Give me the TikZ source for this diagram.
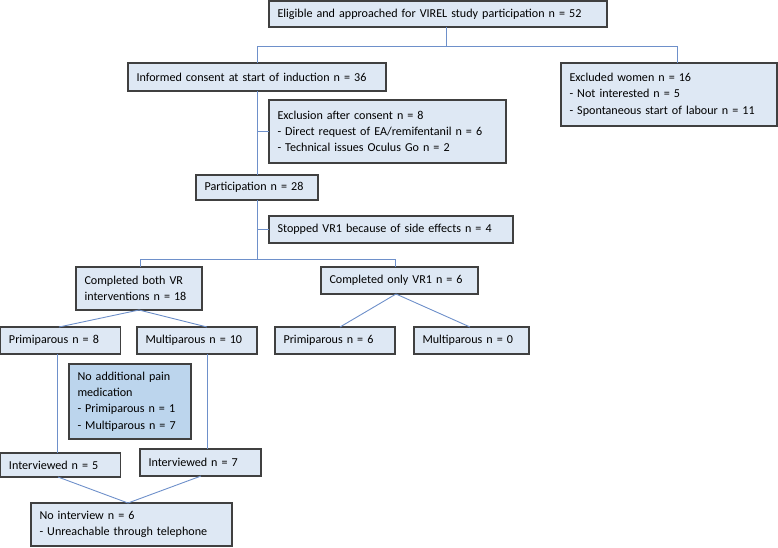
\documentclass[tikz,border=0pt]{standalone}
\usepackage{fontspec}
\setmainfont{Carlito}
\definecolor{boxfill}{HTML}{DEE8F4}
\definecolor{darkfill}{HTML}{BCD5ED}
\definecolor{boxline}{HTML}{404040}
\definecolor{conn}{HTML}{6E90CA}
\newcommand\myline[1]{\mbox{#1}}
\tikzset{
  bx/.style={draw=boxline, line width=1.2pt, fill=boxfill, inner xsep=8.5pt, inner ysep=0pt,
    outer sep=0pt, align=left, font=\fontsize{12.1}{16.3}\selectfont, anchor=center},
  ln/.style={draw=conn, line width=0.9pt}
}
\begin{document}
\begin{tikzpicture}[x=1pt,y=-1pt]
\useasboundingbox (0,0) rectangle (778,547);
% boxes: minimum width = w, text width = w-17
\node[bx, minimum width=338pt, text width=321pt, minimum height=26pt] (top) at (438,14) {\myline{Eligible and approached for VIREL study participation n = 52}};
\node[bx, minimum width=258pt, text width=241pt, minimum height=28pt] (ic) at (257,77) {\myline{Informed consent at start of induction n = 36}};
\node[bx, minimum width=216pt, text width=199pt, minimum height=63pt] (ex) at (669,94.5) {\myline{Excluded women n = 16}\\\myline{- Not interested n = 5}\\\myline{- Spontaneous start of labour n = 11}};
\node[bx, minimum width=237pt, text width=220pt, minimum height=63pt] (eac) at (387.5,131.5) {\myline{Exclusion after consent n = 8}\\\myline{- Direct request of EA/remifentanil n = 6}\\\myline{- Technical issues Oculus Go n = 2}};
\node[bx, minimum width=122pt, text width=105pt, minimum height=25pt] (part) at (257,187.5) {\myline{Participation n = 28}};
\node[bx, minimum width=244pt, text width=227pt, minimum height=27pt] (stop) at (391,229.5) {\myline{Stopped VR1 because of side effects n = 4}};
\node[bx, minimum width=126pt, text width=109pt, minimum height=43pt] (cb) at (139,288.5) {\myline{Completed both VR}\\\myline{interventions n = 18}};
\node[bx, minimum width=157pt, text width=140pt, minimum height=27pt] (co) at (399.5,280.5) {\myline{Completed only VR1 n = 6}};
\node[bx, minimum width=120pt, text width=103pt, minimum height=27pt] (p8) at (60.5,340.5) {\myline{Primiparous n = 8}};
\node[bx, minimum width=120pt, text width=103pt, minimum height=27pt] (m10) at (197,340.5) {\myline{Multiparous n = 10}};
\node[bx, minimum width=120pt, text width=103pt, minimum height=27pt] (p6) at (335,340.5) {\myline{Primiparous n = 6}};
\node[bx, minimum width=115pt, text width=98pt, minimum height=27pt] (m0) at (471.5,340.5) {\myline{Multiparous n = 0}};
\node[bx, fill=darkfill, minimum width=122pt, text width=105pt, minimum height=75pt] (nap) at (130,401.5) {\myline{No additional pain}\\\myline{medication}\\\myline{- Primiparous n = 1}\\\myline{- Multiparous n = 7}};
\node[bx, minimum width=120pt, text width=103pt, minimum height=24pt] (i5) at (60.5,465) {\myline{Interviewed n = 5}};
\node[bx, minimum width=121pt, text width=104pt, minimum height=27pt] (i7) at (200.5,462.5) {\myline{Interviewed n = 7}};
\node[bx, minimum width=201pt, text width=184pt, minimum height=43pt] (ni) at (131.5,524.5) {\myline{No interview n = 6}\\\myline{- Unreachable through telephone}};
% junction coordinates
\coordinate (j1) at (446,46);
\coordinate (jl) at (257,46);
\coordinate (jr) at (677,46);
\coordinate (j2) at (257,259);
\coordinate (j2l) at (140,259);
\coordinate (j2r) at (395,259);
\coordinate (cbb) at (139,310);
\coordinate (cob) at (396,294);
\coordinate (jni) at (128,503);
% connectors
\draw[ln] (top.south -| j1) -- (j1);
\draw[ln] (jl) -- (jr);
\draw[ln] (jl) -- (ic.north);
\draw[ln] (jr) -- (jr |- ex.north);
\draw[ln] (ic.south) -- (part.north);
\draw[ln] (eac.west -| ic.south) -- (eac.west);
\draw[ln] (part.south) -- (j2);
\draw[ln] (stop.west -| part.south) -- (stop.west);
\draw[ln] (j2l) -- (j2r);
\draw[ln] (j2l) -- (j2l |- cb.north);
\draw[ln] (j2r) -- (j2r |- co.north);
\draw[ln] (cbb) -- (59,327) coordinate (p8t);
\draw[ln] (cbb) -- (207,327) coordinate (m10t);
\draw[ln] (cob) -- (340,327) coordinate (p6t);
\draw[ln] (cob) -- (470,327) coordinate (m0t);
\draw[ln] (57,354) coordinate (p8b) -- (p8b |- i5.north);
\draw[ln] (207,354) coordinate (m10b) -- (m10b |- i7.north);
\draw[ln] (58,477) coordinate (i5b) -- (jni);
\draw[ln] (201,476) coordinate (i7b) -- (jni);
\end{tikzpicture}
\end{document}
